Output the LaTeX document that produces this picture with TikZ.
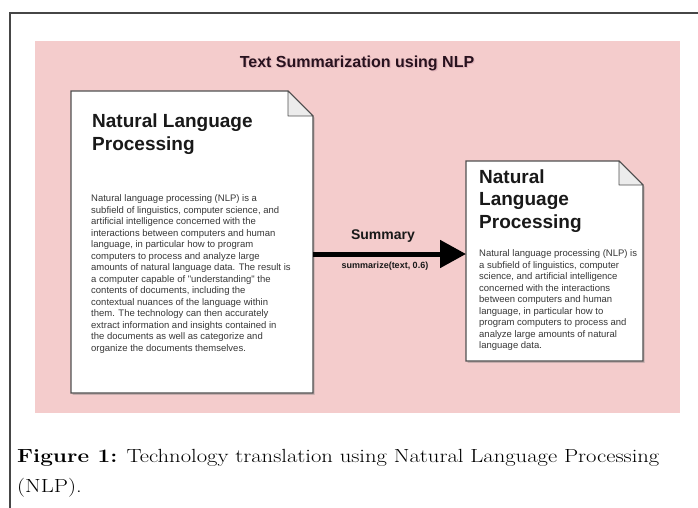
\documentclass[tikz,border=0pt]{standalone}
\usepackage{fontspec}
\newfontfamily\arial{Liberation Sans}
\usetikzlibrary{arrows.meta,shadows}

\definecolor{slidepink}{RGB}{244,204,204}
\definecolor{docedge}{RGB}{80,80,80}
\definecolor{foldgray}{RGB}{236,236,236}
\definecolor{bodygray}{RGB}{55,55,55}
\definecolor{framegray}{RGB}{70,70,70}
\definecolor{titleink}{RGB}{40,18,30}

% page outline with a folded top-right corner, drawn round an empty node
\newcommand{\docpage}[2]{%
  \draw[docline] (#1.north west) -- ([xshift=-#2]#1.north east) -- ([yshift=-#2]#1.north east)
    -- (#1.south east) -- (#1.south west) -- cycle;
  \draw[draw=docedge, line width=0.9pt, fill=foldgray, line join=round]
    ([xshift=-#2]#1.north east) -- ([xshift=-#2,yshift=-#2]#1.north east) -- ([yshift=-#2]#1.north east) -- cycle;
}

\begin{document}
\begin{tikzpicture}[x=1pt, y=-1pt,
  doc/.style={anchor=north west, inner sep=0pt, outer sep=0pt},
  docline/.style={draw=docedge, line width=1.1pt, fill=white,
    drop shadow={shadow xshift=1.6pt, shadow yshift=-1.8pt, opacity=0.4}},
  % base of a multi-line node is its last line
  doctitle/.style={anchor=base west, inner sep=0pt, align=left, text=black!90,
    font=\arial\bfseries\fontsize{19}{23}\selectfont},
  docbody/.style={anchor=base west, inner sep=0pt, align=left, text=bodygray,
    font=\arial\fontsize{9.5}{11.5}\selectfont},
  flow/.style={line width=5pt, -{Triangle[length=26pt, width=27pt]}},
  flowlabel/.style={inner sep=0pt, text=black!90}]
\useasboundingbox (0,0) rectangle (698,508);

% outer frame and slide background
\draw[framegray, line width=1.4pt] (698,13) -- (10,13) -- (10,508);
\fill[slidepink] (35,41) rectangle (680,413);

\node[font=\arial\bfseries\fontsize{16}{19}\selectfont, text=magenta!30!slidepink!75!black, opacity=0.35] at (358.2,64.2) {Text Summarization using NLP};
\node[font=\arial\bfseries\fontsize{16}{19}\selectfont, text=titleink] (heading) at (357,63) {Text Summarization using NLP};

% source document
\node[doc, minimum width=242pt, minimum height=302pt] (ldoc) at (71,91) {};
\docpage{ldoc}{25pt}
\node[doctitle] (ltitle) at (92,150) {Natural Language\\Processing};
\node[docbody] (lbody) at (91,351) {Natural language processing (NLP) is a\\
subfield of linguistics, computer science, and\\
artificial intelligence concerned with the\\
interactions between computers and human\\
language, in particular how to program\\
computers to process and analyze large\\
amounts of natural language data. The result is\\
a computer capable of "understanding" the\\
contents of documents, including the\\
contextual nuances of the language within\\
them. The technology can then accurately\\
extract information and insights contained in\\
the documents as well as categorize and\\
organize the documents themselves.};

% summary document
\node[doc, minimum width=177pt, minimum height=200pt] (rdoc) at (466,161) {};
\docpage{rdoc}{24pt}
\node[doctitle, font=\arial\bfseries\fontsize{19}{22.5}\selectfont] (rtitle) at (479,228) {Natural\\Language\\Processing};
\node[docbody] (rbody) at (479,348.5) {Natural language processing (NLP) is\\
a subfield of linguistics, computer\\
science, and artificial intelligence\\
concerned with the interactions\\
between computers and human\\
language, in particular how to\\
program computers to process and\\
analyze large amounts of natural\\
language data.};

% summarizing step
\coordinate (flowrow) at (0,254);
\draw[flow] (ldoc.east |- flowrow) -- (rdoc.west |- flowrow);
\node[flowlabel, font=\arial\bfseries\fontsize{14}{16}\selectfont] (summ) at (383,236) {Summary};
\node[flowlabel, font=\arial\bfseries\fontsize{9}{11}\selectfont] (call) at (385,266) {summarize(text, 0.6)};

% caption
\node[anchor=base west, inner sep=0pt, align=left, font=\fontsize{19}{30}\selectfont] (caption) at (17,492)
  {\scalebox{1.19}[1]{\textbf{Figure 1:} Technology translation using Natural Language Processing}\\
   \scalebox{1.19}[1]{(NLP).}};
\end{tikzpicture}
\end{document}
